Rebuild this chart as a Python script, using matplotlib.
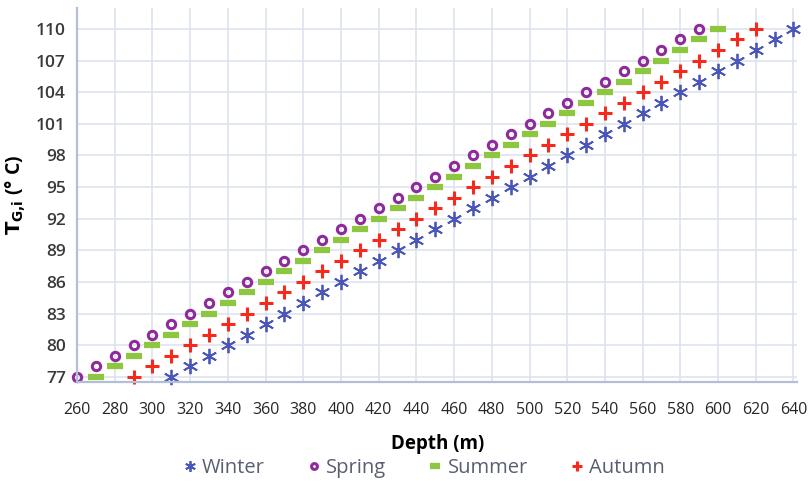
import matplotlib.pyplot as plt

# Depth (m) and ground temperature (deg C) for each season
winter_x = [310, 320, 330, 340, 350, 360, 370, 380, 390, 400, 410, 420, 430, 440, 450, 460, 470,
            480, 490, 500, 510, 520, 530, 540, 550, 560, 570, 580, 590, 600, 610, 620, 630, 640]
winter_y = [77, 78, 79, 80, 81, 82, 83, 84, 85, 86, 87, 88, 89, 90, 91, 92, 93,
            94, 95, 96, 97, 98, 99, 100, 101, 102, 103, 104, 105, 106, 107, 108, 109, 110]

spring_x = [260, 270, 280, 290, 300, 310, 320, 330, 340, 350, 360, 370, 380, 390, 400, 410, 420,
            430, 440, 450, 460, 470, 480, 490, 500, 510, 520, 530, 540, 550, 560, 570, 580, 590]
spring_y = [77, 78, 79, 80, 81, 82, 83, 84, 85, 86, 87, 88, 89, 90, 91, 92, 93,
            94, 95, 96, 97, 98, 99, 100, 101, 102, 103, 104, 105, 106, 107, 108, 109, 110]

summer_x = [270, 280, 290, 300, 310, 320, 330, 340, 350, 360, 370, 380, 390, 400, 410, 420, 430,
            440, 450, 460, 470, 480, 490, 500, 510, 520, 530, 540, 550, 560, 570, 580, 590, 600]
summer_y = [77, 78, 79, 80, 81, 82, 83, 84, 85, 86, 87, 88, 89, 90, 91, 92, 93,
            94, 95, 96, 97, 98, 99, 100, 101, 102, 103, 104, 105, 106, 107, 108, 109, 110]

autumn_x = [290, 300, 310, 320, 330, 340, 350, 360, 370, 380, 390, 400, 410, 420, 430, 440, 450,
            460, 470, 480, 490, 500, 510, 520, 530, 540, 550, 560, 570, 580, 590, 600, 610, 620]
autumn_y = [77, 78, 79, 80, 81, 82, 83, 84, 85, 86, 87, 88, 89, 90, 91, 92, 93,
            94, 95, 96, 97, 98, 99, 100, 101, 102, 103, 104, 105, 106, 107, 108, 109, 110]

x_ticks = list(range(260, 641, 20))
y_ticks = [77, 80, 83, 86, 89, 92, 95, 98, 101, 104, 107, 110]

plt.rcParams['font.family'] = ['Open Sans', 'DejaVu Sans']

fig = plt.figure(figsize=(8.11, 4.88), dpi=100)
ax = fig.add_axes([0.095, 0.217, 0.888, 0.767])

ax.plot(winter_x, winter_y, ls='none', marker=(6, 2, 0), ms=11, mew=1.3,
        color='#4a56b8', label='Winter', clip_on=False)
ax.plot(spring_x, spring_y, ls='none', marker='o', ms=6, mew=2.2, mfc='none',
        color='#8e2a9b', label='Spring', clip_on=False)
ax.plot(summer_x, summer_y, ls='none', marker='_', ms=11, mew=4.5,
        color='#8dc63f', label='Summer', clip_on=False)
ax.plot(autumn_x, autumn_y, ls='none', marker='+', ms=10, mew=2.2,
        color='#f52a1c', label='Autumn', clip_on=False)

ax.set_xlim(260, 642)
ax.set_ylim(76.5, 112)
ax.set_xticks(x_ticks)
ax.set_yticks(y_ticks)
ax.grid(True, color='#dde3ee', lw=1.2)
ax.set_axisbelow(True)

for s in ['top', 'right']:
    ax.spines[s].set_visible(False)
for s in ['left', 'bottom']:
    ax.spines[s].set_color('#b4bfd6')
    ax.spines[s].set_linewidth(1.6)

ax.tick_params(length=0)
ax.tick_params(axis='x', labelsize=11.5, labelcolor='#262626', pad=14)
ax.tick_params(axis='y', labelsize=12.5, labelcolor='#3a3a3a', pad=8)
for lbl in ax.get_yticklabels():
    lbl.set_fontweight('semibold')

ax.set_xlabel('Depth (m)', fontsize=13.5, fontweight='bold', labelpad=12)
ax.set_ylabel(r'$\mathbf{T_{G{,}i}}$ (° C)', fontsize=14, fontweight='bold', labelpad=6)

leg = ax.legend(loc='upper center', bbox_to_anchor=(0.48, -0.175), ncol=4, frameon=False,
                fontsize=14.5, handletextpad=0.15, columnspacing=2.0, handlelength=0.9,
                markerscale=0.7, borderpad=0)
for t in leg.get_texts():
    t.set_color('#595f70')

fig.savefig('out.png', dpi=100)
